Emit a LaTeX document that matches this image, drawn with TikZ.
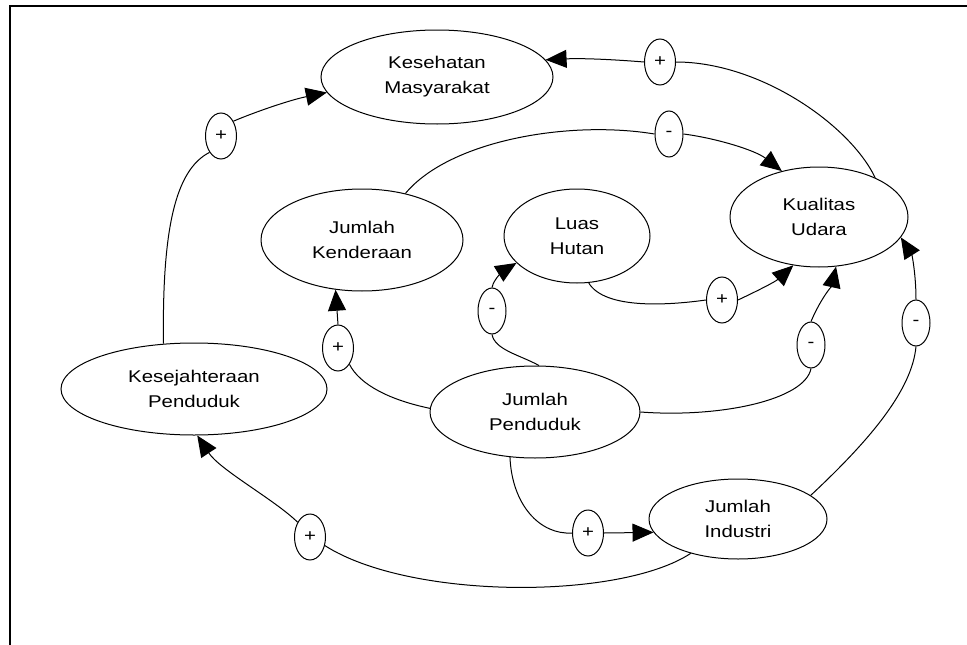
\documentclass[tikz,border=0pt]{standalone}
\usepackage{fontspec}
\setmainfont{Liberation Sans}[FakeStretch=1.2]
\usetikzlibrary{shapes.geometric,arrows.meta}
\begin{document}
\begin{tikzpicture}[x=1pt,y=-1pt,
  var/.style={ellipse,draw,line width=1pt,inner sep=0pt,align=center,font=\fontsize{17}{25}\selectfont},
  sgn/.style={ellipse,draw,line width=1pt,inner sep=0pt,minimum width=31pt,minimum height=46pt,font=\fontsize{17}{20}\selectfont},
  sgnm/.style={sgn,minimum width=28pt},
  link/.style={line width=1pt},
  arr/.style={line width=1pt,-{Triangle[length=21pt,width=18pt]}}]
\useasboundingbox (0,0) rectangle (967,645);
\draw[line width=2pt] (10,645) -- (10,6) -- (967,6);

\node[var,minimum width=232pt,minimum height=94pt] (kes) at (437,77) {Kesehatan\\Masyarakat};
\node[var,minimum width=178pt,minimum height=100pt] (kua) at (819,217) {Kualitas\\Udara};
\node[var,minimum width=202pt,minimum height=102pt] (ken) at (362,240) {Jumlah\\Kenderaan};
\node[var,minimum width=146pt,minimum height=94pt] (hut) at (577,236) {Luas\\Hutan};
\node[var,minimum width=266pt,minimum height=92pt] (sej) at (194,389) {Kesejahteraan\\Penduduk};
\node[var,minimum width=210pt,minimum height=92pt] (pen) at (535,412) {Jumlah\\Penduduk};
\node[var,minimum width=178pt,minimum height=80pt] (ind) at (738,519) {Jumlah\\Industri};

\node[sgn] (s1) at (660,62) {+};
\node[sgn] (s2) at (221,136) {+};
\node[sgnm] (s3) at (669,134) {-};
\node[sgn] (s4) at (722,300) {+};
\node[sgnm] (s5) at (492,311) {-};
\node[sgnm] (s6) at (811,345) {-};
\node[sgnm] (s7) at (916,323) {-};
\node[sgn] (s8) at (338,348) {+};
\node[sgn] (s9) at (588,533) {+};
\node[sgn] (s10) at (310,537) {+};

\draw[link] (kua.35) .. controls (850,125) and (760,62) .. (s1.east);
\draw[arr] (s1.west) .. controls (620,60) and (585,58) .. (kes.9);

\draw[link] (sej.124) .. controls (162,230) and (175,170) .. (s2.235);
\draw[arr] (s2.50) .. controls (255,112) and (290,100) .. (kes.188);

\draw[link] (ken.47) .. controls (450,140) and (570,120) .. (s3.west);
\draw[arr] (s3.east) .. controls (715,138) and (755,150) .. (kua.129);

\draw[link] (hut.284) .. controls (605,310) and (670,305) .. (s4.west);
\draw[arr] (s4.east) .. controls (755,292) and (775,282) .. (kua.242);

\draw[link] (pen.85) .. controls (520,355) and (495,350) .. (s5.south);
\draw[arr] (s5.north) .. controls (494,278) and (505,270) .. (hut.204);

\draw[link] (pen.0) .. controls (720,418) and (805,400) .. (s6.south);
\draw[arr] (s6.north) .. controls (820,300) and (832,285) .. (kua.-71);

\draw[link] (ind.18) .. controls (870,440) and (912,390) .. (s7.south);
\draw[arr] (s7.north) .. controls (916,275) and (912,255) .. (kua.-14);

\draw[link] (pen.178) .. controls (390,400) and (360,385) .. (s8.-55);
\draw[arr] (s8.north) -- (ken.242);

\draw[link] (pen.241) .. controls (512,505) and (540,535) .. (s9.west);
\draw[arr] (s9.east) -- (ind.189);

\draw[link] (ind.216) .. controls (620,600) and (410,600) .. (s10.-30);
\draw[arr] (s10.130) .. controls (275,500) and (220,470) .. (sej.274);
\end{tikzpicture}
\end{document}
